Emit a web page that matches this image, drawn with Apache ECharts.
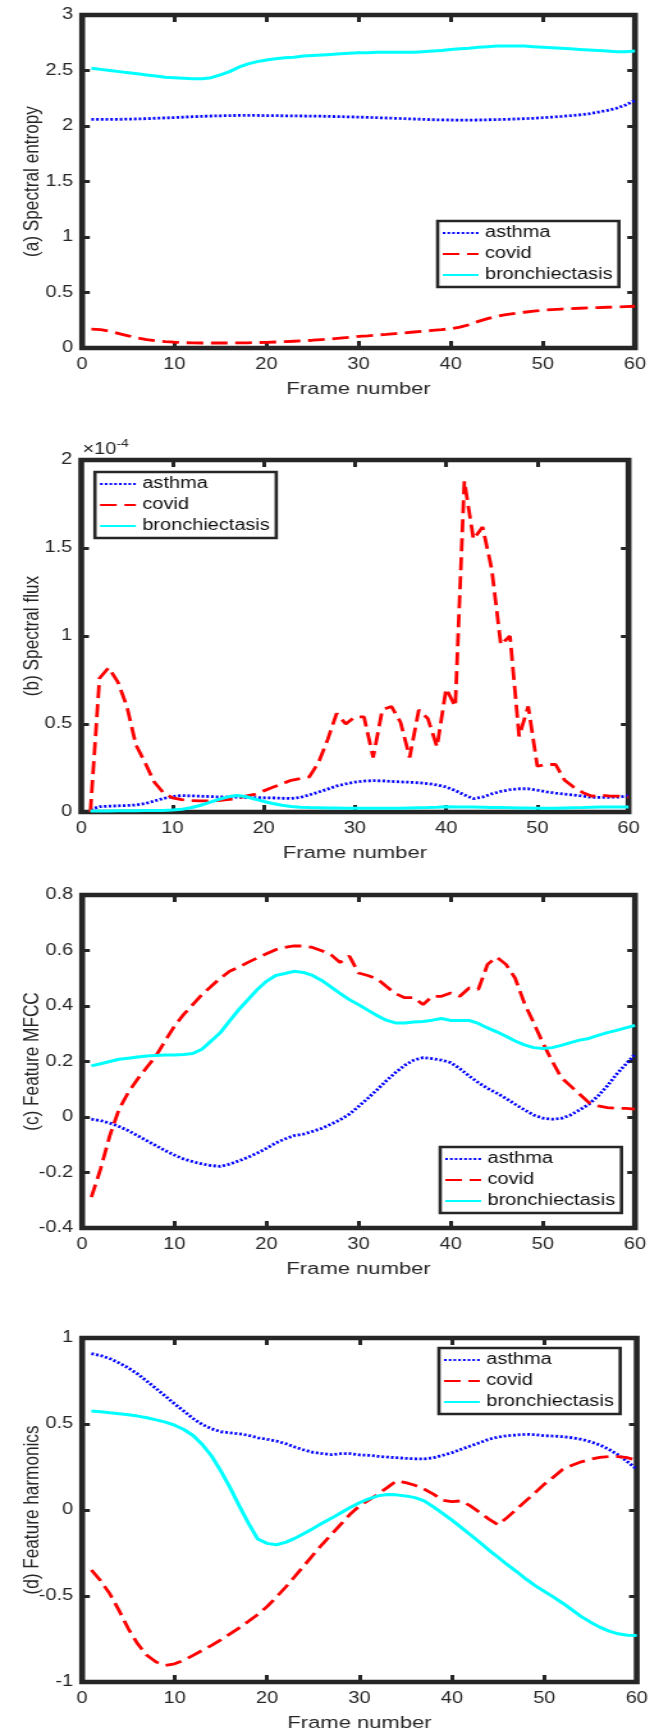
<!DOCTYPE html>
<html>
<head>
<meta charset="utf-8">
<script src="https://cdn.jsdelivr.net/npm/echarts@6.0.0/dist/echarts.min.js"></script>
<style>
html,body{margin:0;padding:0;background:#fff;overflow:hidden;width:659px;height:1733px;}
#c{width:515px;height:1733px;transform:scaleX(1.27961);transform-origin:0 0;}
</style>
</head>
<body>
<div id="c"></div>
<script>
// ---------------- DATA ----------------
const frames = [1,2,3,4,5,6,7,8,9,10,11,12,13,14,15,16,17,18,19,20,21,22,23,24,25,26,27,28,29,30,
                31,32,33,34,35,36,37,38,39,40,41,42,43,44,45,46,47,48,49,50,51,52,53,54,55,56,57,58,59,60];
const seriesNames = ['asthma', 'covid', 'bronchiectasis'];
const xTicks = [0, 10, 20, 30, 40, 50, 60];

// (a) Spectral entropy
const entropyAsthma = [2.06,2.06,2.06,2.06,2.062,2.064,2.066,2.07,2.073,2.076,2.08,2.084,2.087,2.09,2.092,2.094,2.095,2.095,2.095,2.094,
  2.093,2.092,2.091,2.09,2.089,2.088,2.086,2.084,2.082,2.08,2.078,2.075,2.072,2.069,2.066,2.063,2.06,2.057,2.055,2.054,
  2.053,2.053,2.054,2.056,2.058,2.06,2.063,2.066,2.07,2.075,2.08,2.086,2.093,2.10,2.11,2.125,2.14,2.16,2.19,2.23];
const entropyCovid = [0.17,0.165,0.15,0.13,0.11,0.09,0.075,0.065,0.057,0.052,0.048,0.046,0.045,0.045,0.045,0.045,0.046,0.047,0.049,0.051,
  0.054,0.057,0.061,0.065,0.07,0.076,0.082,0.089,0.096,0.104,0.11,0.117,0.123,0.13,0.137,0.144,0.151,0.158,0.165,0.174,
  0.188,0.21,0.24,0.265,0.285,0.3,0.312,0.322,0.332,0.34,0.346,0.351,0.355,0.358,0.361,0.364,0.367,0.37,0.373,0.376];
const entropyBronch = [2.52,2.51,2.50,2.49,2.48,2.47,2.46,2.45,2.44,2.435,2.43,2.425,2.425,2.435,2.46,2.49,2.53,2.56,2.58,2.595,
  2.605,2.615,2.62,2.63,2.635,2.64,2.645,2.65,2.655,2.66,2.66,2.665,2.665,2.665,2.665,2.665,2.67,2.675,2.68,2.69,
  2.695,2.70,2.71,2.715,2.72,2.72,2.72,2.72,2.715,2.71,2.705,2.70,2.695,2.69,2.685,2.68,2.675,2.67,2.67,2.675];

// (b) Spectral flux, in units of 1e-4
const fluxAsthma = [0.015,0.03,0.033,0.035,0.037,0.04,0.048,0.062,0.077,0.088,0.093,0.092,0.09,0.088,0.086,0.085,0.084,0.083,0.082,0.081,
  0.08,0.078,0.077,0.083,0.097,0.113,0.13,0.148,0.16,0.17,0.176,0.178,0.177,0.174,0.171,0.169,0.166,0.161,0.154,0.142,
  0.122,0.097,0.076,0.085,0.103,0.117,0.127,0.132,0.132,0.124,0.115,0.107,0.101,0.096,0.09,0.084,0.083,0.084,0.085,0.093];
const fluxCovid = [0,0.76,0.82,0.74,0.6,0.38,0.28,0.17,0.11,0.08,0.07,0.065,0.063,0.063,0.065,0.07,0.075,0.09,0.1,0.12,
  0.14,0.16,0.18,0.19,0.2,0.28,0.41,0.56,0.5,0.54,0.54,0.31,0.58,0.6,0.51,0.31,0.58,0.53,0.37,0.7,
  0.6,1.88,1.55,1.62,1.38,0.95,1.0,0.43,0.6,0.26,0.27,0.27,0.18,0.14,0.11,0.09,0.095,0.09,0.09,0.085];
const fluxBronch = [0.005,0.006,0.006,0.007,0.007,0.007,0.008,0.008,0.009,0.011,0.015,0.024,0.037,0.053,0.07,0.085,0.094,0.088,0.074,0.06,
  0.048,0.038,0.031,0.027,0.025,0.024,0.023,0.023,0.022,0.022,0.021,0.021,0.021,0.022,0.022,0.023,0.024,0.025,0.027,0.03,
  0.029,0.028,0.028,0.027,0.026,0.025,0.024,0.023,0.023,0.022,0.022,0.022,0.023,0.024,0.025,0.027,0.028,0.028,0.028,0.028];

// (c) Feature MFCC
const mfccAsthma = [-0.008,-0.013,-0.022,-0.034,-0.049,-0.067,-0.085,-0.103,-0.121,-0.137,-0.151,-0.161,-0.169,-0.175,-0.178,-0.17,-0.158,-0.145,-0.13,-0.113,
  -0.094,-0.079,-0.067,-0.062,-0.052,-0.041,-0.026,-0.01,0.01,0.038,0.067,0.098,0.13,0.16,0.186,0.205,0.214,0.21,0.205,0.196,
  0.174,0.148,0.124,0.103,0.086,0.067,0.046,0.026,0.007,-0.004,-0.008,-0.005,0.007,0.026,0.046,0.076,0.112,0.154,0.19,0.226];
const mfccCovid = [-0.289,-0.187,-0.067,0.028,0.088,0.136,0.178,0.22,0.274,0.327,0.369,0.405,0.441,0.471,0.5,0.525,0.54,0.557,0.573,0.588,
  0.603,0.611,0.617,0.616,0.611,0.599,0.585,0.557,0.58,0.519,0.51,0.498,0.471,0.445,0.43,0.43,0.405,0.435,0.435,0.447,
  0.435,0.465,0.46,0.55,0.576,0.55,0.5,0.41,0.34,0.267,0.202,0.142,0.112,0.082,0.052,0.04,0.034,0.031,0.031,0.028];
const mfccBronch = [0.184,0.192,0.2,0.208,0.212,0.216,0.22,0.222,0.223,0.223,0.225,0.229,0.244,0.274,0.304,0.346,0.387,0.423,0.459,0.489,
  0.51,0.517,0.525,0.521,0.51,0.492,0.469,0.445,0.423,0.405,0.385,0.366,0.349,0.339,0.339,0.342,0.344,0.349,0.355,0.348,
  0.348,0.348,0.337,0.321,0.307,0.291,0.274,0.26,0.25,0.247,0.25,0.258,0.268,0.277,0.283,0.294,0.304,0.312,0.321,0.33];

// (d) Feature harmonics
const harmAsthma = [0.909,0.898,0.88,0.855,0.826,0.791,0.749,0.706,0.662,0.617,0.575,0.532,0.497,0.472,0.455,0.449,0.443,0.434,0.42,0.411,
  0.401,0.386,0.366,0.349,0.335,0.328,0.322,0.328,0.328,0.32,0.318,0.312,0.308,0.304,0.3,0.298,0.297,0.304,0.318,0.333,
  0.353,0.372,0.391,0.411,0.424,0.432,0.436,0.44,0.438,0.432,0.43,0.426,0.42,0.411,0.397,0.378,0.353,0.32,0.281,0.237];
const harmCovid = [-0.349,-0.411,-0.488,-0.585,-0.691,-0.778,-0.845,-0.884,-0.903,-0.894,-0.874,-0.845,-0.816,-0.787,-0.755,-0.72,-0.685,-0.647,-0.608,-0.562,
  -0.507,-0.449,-0.387,-0.324,-0.26,-0.198,-0.14,-0.082,-0.024,0.024,0.057,0.092,0.13,0.169,0.159,0.144,0.121,0.092,0.057,0.049,
  0.053,0.024,-0.014,-0.053,-0.086,-0.043,0.005,0.053,0.101,0.15,0.192,0.237,0.26,0.28,0.295,0.306,0.31,0.31,0.304,0.289];
const harmBronch = [0.575,0.571,0.565,0.56,0.554,0.546,0.536,0.524,0.511,0.493,0.468,0.433,0.381,0.314,0.227,0.13,0.024,-0.078,-0.169,-0.194,
  -0.202,-0.188,-0.165,-0.136,-0.107,-0.076,-0.047,-0.016,0.014,0.042,0.065,0.082,0.09,0.088,0.082,0.072,0.053,0.018,-0.02,-0.059,
  -0.101,-0.144,-0.188,-0.233,-0.275,-0.318,-0.358,-0.401,-0.44,-0.473,-0.507,-0.542,-0.581,-0.62,-0.652,-0.681,-0.704,-0.72,-0.728,-0.729];

// ---------------- LAYOUT / STYLE ----------------
const FONT = "'Liberation Sans', Arial, Helvetica, sans-serif";
const TXT = '#262626';
const FRAME = '#262626';
const seriesStyles = [
  {color: '#0000ff', type: [2, 1.7], width: 2.8},
  {color: '#ff0000', type: [13, 6], width: 2.8},
  {color: '#00ffff', type: 'solid', width: 3}
];

const panels = [
  {label: '(a) Spectral entropy', min: 0, max: 3, interval: 0.5,
   grid: {left: 64.2, right: 18.8, top: 15, height: 333}, legend: {left: 342, top: 221},
   values: [entropyAsthma, entropyCovid, entropyBronch]},
  {label: '(b) Spectral flux', min: 0, max: 2, interval: 0.5,
   grid: {left: 63.5, right: 23.8, top: 460, height: 352}, legend: {left: 74.2, top: 472},
   values: [fluxAsthma, fluxCovid, fluxBronch]},
  {label: '(c) Feature MFCC', min: -0.4, max: 0.8, interval: 0.2,
   grid: {left: 64.2, right: 18.8, top: 895, height: 333}, legend: {left: 344, top: 1147},
   values: [mfccAsthma, mfccCovid, mfccBronch]},
  {label: '(d) Feature harmonics', min: -1, max: 1, interval: 0.5,
   grid: {left: 64.2, right: 17.4, top: 1338, height: 345}, legend: {left: 343, top: 1348},
   values: [harmAsthma, harmCovid, harmBronch]}
];

const grid = [], xAxis = [], yAxis = [], series = [], legend = [];
const tickLabel = {fontFamily: FONT, fontSize: 15.6, color: TXT};
const xTick = {inside: true, length: 7, lineStyle: {color: FRAME, width: 3}};
const yTick = {inside: true, length: 6, lineStyle: {color: FRAME, width: 3}};

panels.forEach((p, i) => {
  grid.push(Object.assign({show: true, borderColor: FRAME, borderWidth: 4.6, backgroundColor: 'transparent'}, p.grid));
  const xBase = {type: 'value', gridIndex: i, min: xTicks[0], max: xTicks[xTicks.length - 1],
                 interval: xTicks[1] - xTicks[0], splitLine: {show: false},
                 axisLine: {show: false, onZero: false}};
  const yBase = {type: 'value', gridIndex: i, min: p.min, max: p.max, interval: p.interval,
                 splitLine: {show: false}, axisLine: {show: false, onZero: false}};
  // bottom x axis
  xAxis.push(Object.assign({}, xBase, {
    position: 'bottom', name: 'Frame number', nameLocation: 'middle', nameGap: 33,
    nameMoveOverlap: false,
    nameTextStyle: {fontFamily: FONT, fontSize: 17.2, color: TXT},
    axisTick: xTick,
    axisLabel: Object.assign({margin: 9, showMinLabel: true, showMaxLabel: true}, tickLabel)
  }));
  // top x axis (ticks only)
  xAxis.push(Object.assign({}, xBase, {position: 'top', axisLabel: {show: false}, axisTick: xTick}));
  // left y axis
  yAxis.push(Object.assign({}, yBase, {
    position: 'left', name: p.label, nameLocation: 'middle', nameGap: 30,
    nameMoveOverlap: false,
    nameTextStyle: {fontFamily: FONT, fontSize: 17.2, color: TXT},
    axisTick: yTick,
    axisLabel: Object.assign({margin: 7, showMinLabel: true, showMaxLabel: true}, tickLabel)
  }));
  // right y axis (ticks only)
  yAxis.push(Object.assign({}, yBase, {position: 'right', axisLabel: {show: false}, axisTick: yTick}));

  p.values.forEach((vals, k) => {
    const st = seriesStyles[k];
    series.push({
      type: 'line', name: seriesNames[k], xAxisIndex: 2 * i, yAxisIndex: 2 * i,
      data: frames.map((f, j) => [f, vals[j]]),
      symbol: 'none', smooth: false, clip: true, z: 3,
      lineStyle: {color: st.color, type: st.type, width: st.width, cap: 'butt'},
      itemStyle: {color: st.color}
    });
  });
  legend.push({
    orient: 'vertical', left: p.legend.left, top: p.legend.top, data: seriesNames,
    itemWidth: 28, itemHeight: 14, itemGap: 5, padding: [4, 5, 4, 3],
    borderColor: FRAME, borderWidth: 2.6, backgroundColor: '#fff', borderRadius: 0,
    selectedMode: false, z: 10,
    itemStyle: {color: 'rgba(0,0,0,0)', borderColor: 'rgba(0,0,0,0)', borderWidth: 0, opacity: 0},
    textStyle: {fontFamily: FONT, fontSize: 15.6, color: '#111', lineHeight: 14}
  });
});

const chart = echarts.init(document.getElementById('c'), null, {renderer: 'canvas'});
chart.setOption({
  animation: false,
  backgroundColor: '#fff',
  grid, xAxis, yAxis, series, legend,
  graphic: [{
    type: 'text', left: 64.5, top: 438, z: 20,
    style: {
      text: '{a|×10}{b|-4}',
      rich: {
        a: {fontFamily: FONT, fontSize: 15.6, fill: TXT, verticalAlign: 'bottom', lineHeight: 20},
        b: {fontFamily: FONT, fontSize: 11, fill: TXT, verticalAlign: 'top', lineHeight: 20}
      }
    }
  }]
});
</script>
</body>
</html>
